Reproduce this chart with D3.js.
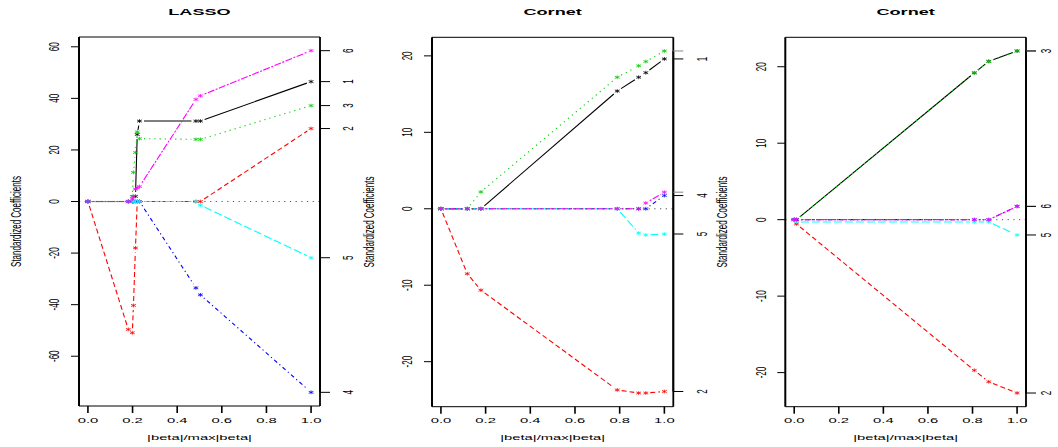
<!DOCTYPE html>
<html><head><meta charset="utf-8">
<script src="https://cdn.jsdelivr.net/npm/d3@7"></script>
<style>body{margin:0;background:#fff} svg{display:block} text{font-family:"Liberation Sans",Arial,Helvetica,sans-serif}</style>
</head><body><svg id="c" width="1058" height="447"></svg>
<script>
// ---------- data ----------
const titles = ["LASSO", "Cornet", "Cornet"];
const xTitle = "|beta|/max|beta|";
const yTitle = "Standardized Coefficients";
const xTicks = [0, 0.2, 0.4, 0.6, 0.8, 1.0];
const lassoYTicks = [-60, -40, -20, 0, 20, 40, 60];
const cornetYTicks = [-20, -10, 0, 10, 20];

// LASSO path
const lassoS  = [0, 0.181, 0.199, 0.204, 0.213, 0.221, 0.231, 0.484, 0.504, 1.0];
const lassoB1 = [0, 0, 0, 0, 2, 26, 31.2, 31.2, 31.2, 46.5];
const lassoB2 = [0, -49.6, -50.9, -40.3, -18, 0, 0, 0, 0, 28.3];
const lassoB3 = [0, 0, 2, 11.3, 19, 27, 24.4, 24.1, 24.1, 37.2];
const lassoB4 = [0, 0, 0, 0, 0, 0, 0, -33.5, -36.2, -74.0];
const lassoB5 = [0, 0, 0, 0, 0, 0, 0, 0, -1.4, -21.8];
const lassoB6 = [0, 0, 1.0, 2.0, 4.8, 5.3, 5.8, 39.6, 41.0, 58.5];
const lassoLabels = ["1", "2", "3", "4", "5", "6"];

// Cornet path (middle)
const cornetAS  = [0, 0.118, 0.179, 0.789, 0.885, 0.917, 1.0];
const cornetAB1 = [0, 0, 0, 15.4, 17.2, 17.8, 19.6];
const cornetAB2 = [0, -8.5, -10.65, -23.7, -24.1, -24.1, -23.9];
const cornetAB3 = [0, 0, 2.2, 17.2, 18.7, 19.26, 20.64];
const cornetAB4 = [0, 0, 0, 0, 0, 0, 1.73];
const cornetAB5 = [0, 0, 0, 0, -3.17, -3.43, -3.3];
const cornetAB6 = [0, 0, 0, 0, 0, 0.75, 2.17];
const cornetALabels = ["1", "2", "", "4", "5", ""];

// Cornet path (right)
const cornetBS  = [0, 0.01, 0.808, 0.873, 1.0];
const cornetBB1 = [0, 0, 19.2, 20.7, 22.06];
const cornetBB2 = [0, -0.56, -19.7, -21.2, -22.67];
const cornetBB3 = [0, 0, 19.2, 20.7, 22.06];
const cornetBB4 = [0, 0, 0, 0, 1.74];
const cornetBB5 = [0, -0.3, -0.3, -0.3, -2.0];
const cornetBB6 = [0, 0, 0, 0, 1.74];
const cornetBLabels = ["", "2", "3", "", "5", "6"];

// ---------- drawing ----------
const colors = ["#000000", "#FF0000", "#00CD00", "#0000FF", "#00FFFF", "#FF00FF"];
const dashes = [null, "5,3", "1.2,4", "1.2,3,4,3", "8,3", "2,1.5,7,1.5"];
const SX = 1.85; // horizontal text stretch of the reference

const panels = [
  {title: titles[0], s: lassoS, b: [lassoB1, lassoB2, lassoB3, lassoB4, lassoB5, lassoB6], yTicks: lassoYTicks, labels: lassoLabels,
   box: {l: 79, r: 320, t: 37, b: 406}},
  {title: titles[1], s: cornetAS, b: [cornetAB1, cornetAB2, cornetAB3, cornetAB4, cornetAB5, cornetAB6], yTicks: cornetYTicks, labels: cornetALabels,
   box: {l: 432, r: 673.3, t: 37.3, b: 406.7}},
  {title: titles[2], s: cornetBS, b: [cornetBB1, cornetBB2, cornetBB3, cornetBB4, cornetBB5, cornetBB6], yTicks: cornetYTicks, labels: cornetBLabels,
   box: {l: 785.3, r: 1026, t: 37.3, b: 406.7}}
];

const svg = d3.select("#c");
const FS = 8;

function hText(g, x, y, txt, size, bold) {
  g.append("text").attr("transform", `translate(${x},${y}) scale(${SX},1)`)
    .attr("text-anchor", "middle").attr("dominant-baseline", "central")
    .attr("font-size", size).attr("font-weight", bold ? "bold" : "normal")
    .attr("fill", "#000").text(txt);
}
function vText(g, x, y, txt, size) {
  g.append("text").attr("transform", `translate(${x},${y}) scale(${SX},1) rotate(-90)`)
    .attr("text-anchor", "middle").attr("dominant-baseline", "central")
    .attr("font-size", size).attr("fill", "#000").text(txt);
}
function starPath(cx, cy) {
  const a = 2.4, b = 1.1, h = 1.9;
  return `M${cx},${cy - h}L${cx},${cy + h}M${cx - a},${cy - b}L${cx + a},${cy + b}M${cx - a},${cy + b}L${cx + a},${cy - b}`;
}

panels.forEach(p => {
  const g = svg.append("g");
  const B = p.box;
  const x = d3.scaleLinear().domain([-0.04, 1.04]).range([B.l, B.r]);
  const all = p.b.flat();
  const mn = d3.min(all), mx = d3.max(all), pad = (mx - mn) * 0.04;
  const y = d3.scaleLinear().domain([mn - pad, mx + pad]).range([B.b, B.t]);

  // series (type = "b": lines with gaps around points)
  const gap = 4.5;
  p.b.forEach((vals, k) => {
    const pts = vals.map((v, i) => [x(p.s[i]), y(v)]);
    for (let i = 0; i < pts.length - 1; i++) {
      const [x0, y0] = pts[i], [x1, y1] = pts[i + 1];
      const len = Math.hypot(x1 - x0, y1 - y0);
      if (len <= 2 * gap) continue;
      const ux = (x1 - x0) / len, uy = (y1 - y0) / len;
      const ln = g.append("line")
        .attr("x1", x0 + ux * gap).attr("y1", y0 + uy * gap)
        .attr("x2", x1 - ux * gap).attr("y2", y1 - uy * gap)
        .attr("stroke", colors[k]).attr("stroke-width", 1.1);
      if (dashes[k]) ln.attr("stroke-dasharray", dashes[k]);
    }
    pts.forEach(([px, py]) => {
      g.append("path").attr("d", starPath(px, py)).attr("stroke", colors[k])
        .attr("stroke-width", 0.8).attr("fill", "none");
    });
  });

  // zero line (abline h=0, lty=3)
  g.append("line").attr("x1", B.l).attr("x2", B.r).attr("y1", y(0)).attr("y2", y(0))
    .attr("stroke", "#555").attr("stroke-width", 1).attr("stroke-dasharray", "1.2,4.5");

  // box
  g.append("line").attr("x1", B.l).attr("x2", B.r).attr("y1", B.t).attr("y2", B.t).attr("stroke", "#000").attr("stroke-width", 1);
  g.append("line").attr("x1", B.l).attr("x2", B.r).attr("y1", B.b).attr("y2", B.b).attr("stroke", "#000").attr("stroke-width", 1);
  g.append("line").attr("x1", B.l).attr("x2", B.l).attr("y1", B.t).attr("y2", B.b).attr("stroke", "#000").attr("stroke-width", 2);
  g.append("line").attr("x1", B.r).attr("x2", B.r).attr("y1", B.t).attr("y2", B.b).attr("stroke", "#000").attr("stroke-width", 1.8);

  // bottom axis
  xTicks.forEach(t => {
    g.append("line").attr("x1", x(t)).attr("x2", x(t)).attr("y1", B.b).attr("y2", B.b + 7)
      .attr("stroke", "#000").attr("stroke-width", 1.6);
    hText(g, x(t), 420, d3.format(".1f")(t), FS, false);
  });
  hText(g, (x(0) + x(1)) / 2, 437.5, xTitle, FS, false);

  // left axis
  p.yTicks.forEach(t => {
    g.append("line").attr("x1", B.l - 8).attr("x2", B.l).attr("y1", y(t)).attr("y2", y(t))
      .attr("stroke", "#000").attr("stroke-width", 1);
    vText(g, B.l - 24.5, y(t), String(t), FS);
  });
  vText(g, B.l - 63, (B.t + B.b) / 2, yTitle, FS);

  // right axis at final coefficient values
  const last = p.b.map(v => v[v.length - 1]);
  g.append("line").attr("x1", B.r).attr("x2", B.r).attr("y1", y(d3.min(last))).attr("y2", y(d3.max(last)))
    .attr("stroke", "#000").attr("stroke-width", 1.8);
  last.forEach((v, k) => {
    g.append("line").attr("x1", B.r).attr("x2", B.r + 10).attr("y1", y(v)).attr("y2", y(v))
      .attr("stroke", p.labels[k] ? "#000" : "#888").attr("stroke-width", 1);
    if (p.labels[k]) vText(g, Math.min(B.r + 28.5, 1046), y(v), p.labels[k], FS);
  });

  // title
  hText(g, (x(0) + x(1)) / 2, 12, p.title, 9.8, true);
});
</script>
</body></html>
